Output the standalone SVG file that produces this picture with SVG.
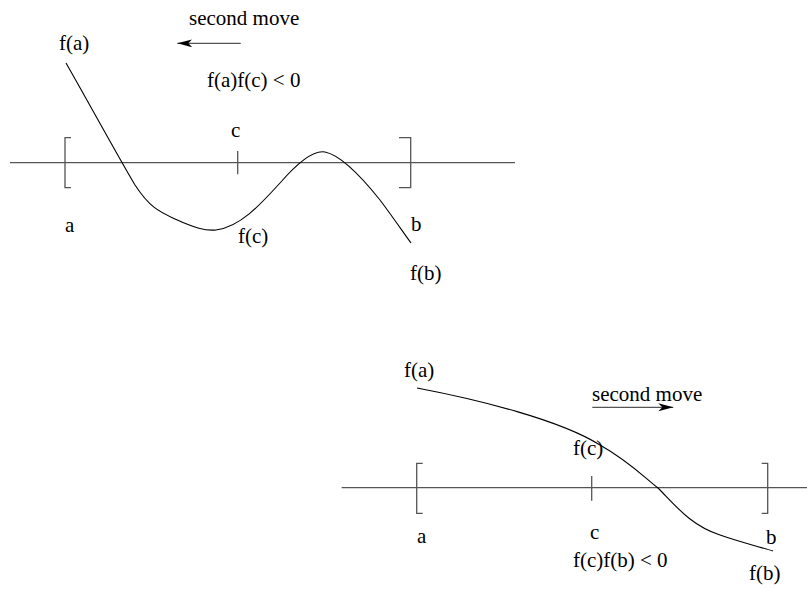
<svg xmlns="http://www.w3.org/2000/svg" width="807" height="589" viewBox="0 0 807 589">
<style>
text{font-family:"Liberation Serif","Times New Roman",serif;font-size:21px;fill:#000}
.ax{stroke:#555;stroke-width:1.3;fill:none}
.cv{stroke:#000;stroke-width:1.1;fill:none}
.arr{stroke:#555;stroke-width:1.3;fill:none;marker-end:url(#ah)}
</style>
<defs>
<marker id="ah" markerUnits="userSpaceOnUse" markerWidth="16" markerHeight="10" refX="15" refY="4" orient="auto">
<path d="M0,0 L15,4 L0,8 L4,4 Z" fill="#000"/>
</marker>
</defs>
<g id="top">
<g id="top-axis">
<line class="ax" x1="10" y1="162.7" x2="515" y2="162.7"/>
<path class="ax" d="M71,137.7 H65 V187.7 H71"/>
<path class="ax" d="M399,137.7 H410.7 V187.7 H399"/>
<line class="ax" x1="237.7" y1="151" x2="237.7" y2="174.3" stroke="#000"/>
</g>
<g id="top-curve">
<path class="cv" d="M66,63 C90,105 120,160 135,185 C150,208 160,212 175,219 C195,228 205,231 216,230 C240,227 260,205 280,183 C300,160 315,150 325,152 C340,155 360,175 380,200 C395,220 405,235 411,243"/>
</g>
<g id="top-labels">
<text x="189" y="25">second move</text>
<text x="59" y="50">f(a)</text>
<text x="207" y="87">f(a)f(c) &lt; 0</text>
<text x="231" y="137">c</text>
<text x="65" y="232">a</text>
<text x="411" y="231">b</text>
<text x="238" y="243">f(c)</text>
<text x="410" y="280">f(b)</text>
</g>
</g>
<g id="bottom">
<g id="bottom-axis">
<line class="ax" x1="341.7" y1="487.7" x2="807" y2="487.7"/>
<path class="ax" d="M422.7,463.3 H416.7 V513.3 H422.7"/>
<path class="ax" d="M761.7,463.3 H767.7 V513.3 H761.7"/>
<line class="ax" x1="591.7" y1="476" x2="591.7" y2="500.7"/>
</g>
<g id="bottom-curve">
<path class="cv" d="M417,388 C480,400 560,420 600,445 C630,462 645,478 658,488 C675,505 690,525 720,535 C740,542 760,547 773,551"/>
</g>
<g id="bottom-labels">
<text x="404" y="377">f(a)</text>
<text x="592" y="401">second move</text>
<text x="573" y="455">f(c)</text>
<text x="417" y="543">a</text>
<text x="590" y="539">c</text>
<text x="766" y="544">b</text>
<text x="573" y="567">f(c)f(b) &lt; 0</text>
<text x="749" y="580">f(b)</text>
</g>
</g>
<g id="connectors">
<line class="arr" x1="240.7" y1="43.3" x2="177.3" y2="43.3"/>
<line class="arr" x1="592.3" y1="407.3" x2="673.3" y2="407.3"/>
</g>
</svg>
